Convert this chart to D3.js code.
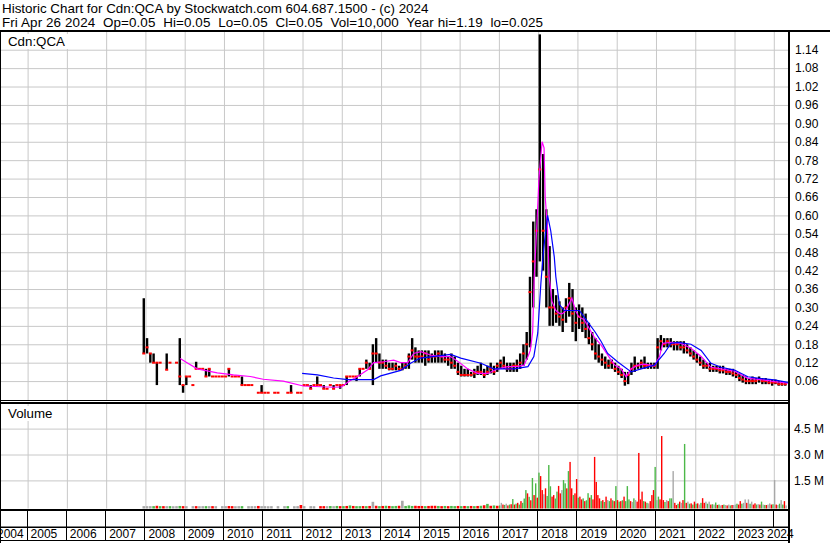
<!DOCTYPE html>
<html>
<head>
<meta charset="utf-8">
<script src="https://cdnjs.cloudflare.com/ajax/libs/d3/7.8.5/d3.min.js"></script>
<style>
  body { margin: 0; background: #fff; }
  svg text { font-family: "Liberation Sans", Arial, sans-serif; fill: #000; }
  .grid .domain { display: none; }
  .grid line { stroke: #c8c8c8; }
  .lbl .domain { display: none; }
</style>
</head>
<body>
<svg id="chart" width="830" height="543"></svg>
<script>
// ---- data ----
// monthly price bars, first month = Dec 2007
const priceStart = 2007 + 11 / 12;
const hi = [.33,
  .20, .15, .15, .12, .12, null, .15, .12, null, .12, .20, .047,
  .075, .075, .047, .123, .10, .10, .10, .10, .075, .075, .075, .075,
  .075, .10, .075, .075, .075, .075, .047, .047, .047, null, .022, .047,
  .022, .022, null, .022, .022, null, null, .022, .047, null, .022, .022,
  .047, .047, .047, .047, .075, .047, .047, .035, .047, .047, .047, .047,
  .047, .075, .075, .075, .075, .10, .10, .13, .12, .18, .20, .15,
  .13, .13, .12, .12, .12, .11, .12, .12, .15, .20, .17, .16,
  .16, .16, .16, .15, .16, .16, .16, .15, .14, .15, .14, .12,
  .11, .10, .10, .09, .10, .11, .12, .10, .11, .12, .11, .12,
  .13, .14, .12, .12, .12, .13, .15, .18, .22, .40, .58, .62,
  1.19, .80, .62, .50, .36, .34, .32, .30, .33, .38, .36, .30,
  .31, .30, .28, .25, .22, .20, .18, .15, .14, .13, .13, .12,
  .11, .10, .09, .09, .12, .14, .12, .13, .14, .12, .12, .12,
  .20, .21, .20, .20, .20, .19, .19, .19, .19, .18, .17, .16,
  .15, .14, .13, .12, .12, .11, .11, .11, .11, .10, .10, .10,
  .09, .085, .08, .075, .07, .075, .07, .075, .07, .07, .065, .065,
  .065, .06, .06, .055];
const lo = [.15,
  .15, .12, .12, .047, .12, null, .097, .12, null, .12, .047, .022,
  .047, .075, .047, .10, .10, .10, .075, .075, .075, .075, .075, .075,
  .075, .075, .075, .075, .075, .047, .047, .047, .047, null, .022, .022,
  .022, .022, null, .022, .022, null, null, .022, .022, null, .022, .022,
  .047, .047, .035, .047, .047, .047, .035, .035, .047, .035, .047, .035,
  .047, .047, .075, .075, .06, .075, .10, .10, .10, .047, .12, .10,
  .10, .10, .095, .095, .095, .095, .095, .10, .10, .13, .12, .12,
  .12, .11, .12, .12, .12, .12, .12, .12, .11, .10, .10, .08,
  .075, .075, .075, .075, .07, .08, .08, .07, .08, .085, .08, .09,
  .10, .10, .09, .09, .09, .09, .10, .11, .13, .17, .30, .40,
  .45, .42, .30, .24, .24, .25, .24, .22, .25, .27, .22, .19,
  .23, .22, .20, .18, .16, .13, .12, .11, .10, .10, .10, .09,
  .08, .07, .045, .05, .08, .09, .10, .10, .10, .10, .10, .10,
  .10, .16, .17, .17, .17, .16, .16, .16, .15, .15, .14, .13,
  .12, .11, .10, .10, .09, .09, .09, .085, .085, .08, .08, .075,
  .07, .06, .055, .05, .05, .05, .05, .055, .05, .05, .05, .045,
  .05, .045, .045, .045];
const cl = [.15,
  .17, .15, .12, .12, .12, null, .097, .12, null, .12, .075, .047,
  .075, .075, .047, .10, .10, .10, .075, .10, .075, .075, .075, .075,
  .075, .10, .075, .075, .075, .047, .047, .047, .047, null, .022, .022,
  .022, .022, null, .022, .022, null, null, .022, .022, null, .022, .022,
  .047, .047, .035, .047, .047, .047, .035, .035, .047, .035, .047, .047,
  .047, .075, .075, .075, .075, .10, .10, .12, .10, .15, .15, .12,
  .12, .11, .10, .10, .11, .10, .10, .11, .14, .16, .14, .14,
  .14, .15, .13, .14, .14, .15, .14, .13, .13, .12, .11, .09,
  .08, .08, .08, .08, .085, .09, .09, .08, .09, .10, .09, .11,
  .12, .11, .10, .10, .11, .11, .12, .15, .18, .35, .45, .55,
  .75, .55, .40, .30, .30, .28, .27, .26, .30, .33, .28, .25,
  .27, .25, .23, .20, .18, .15, .14, .13, .12, .11, .12, .10,
  .09, .08, .06, .08, .10, .11, .11, .12, .11, .11, .11, .11,
  .17, .19, .18, .19, .18, .18, .18, .17, .17, .16, .15, .14,
  .13, .12, .11, .11, .10, .10, .10, .095, .095, .09, .09, .085,
  .08, .07, .065, .06, .06, .06, .06, .065, .06, .06, .055, .055,
  .055, .05, .05, .05];

// short moving average (magenta), [decimal year, price]
const pinkT = [2008.885, 2009.06, 2009.32, 2009.83, 2010.24, 2010.67, 2011.0, 2011.51, 2012.02, 2012.79, 2012.99,
  2013.17, 2013.4, 2013.66, 2013.81, 2014.06, 2014.32, 2014.5, 2014.68, 2014.83, 2015.01, 2015.26, 2015.52,
  2015.77, 2015.95, 2016.2, 2016.46, 2016.72, 2016.97, 2017.23, 2017.48, 2017.64, 2017.74, 2017.8, 2017.86,
  2017.9, 2017.96, 2018.02, 2018.1, 2018.15, 2018.18, 2018.24, 2018.28, 2018.35, 2018.45, 2018.55, 2018.62,
  2018.7, 2018.78, 2018.86, 2018.95, 2019.03, 2019.17, 2019.42, 2019.6, 2019.85, 2019.95, 2020.11, 2020.24,
  2020.37, 2020.54, 2020.7, 2020.96, 2021.09, 2021.17, 2021.38, 2021.64, 2021.89, 2022.15, 2022.4, 2022.66,
  2023.0, 2023.34, 2023.68, 2024.02, 2024.36];
const pinkV = [.134, .12, .10, .087, .08, .075, .066, .06, .044, .04, .041,
  .058, .075, .097, .12, .123, .128, .12, .12, .15, .156, .145, .14,
  .14, .125, .10, .085, .085, .10, .107, .108, .112, .14, .16, .22,
  .40, .55, .72, .84, .82, .66, .55, .40, .32, .29, .28, .28,
  .29, .31, .33, .29, .27, .26, .205, .178, .13, .112, .10, .074,
  .10, .112, .115, .11, .14, .183, .186, .183, .167, .14, .105, .10,
  .092, .069, .065, .058, .053];

// long moving average (blue)
const blueT = [2011.99, 2012.38, 2012.79, 2013.15, 2013.81, 2013.99, 2014.5, 2014.75, 2015.0, 2015.52, 2015.77,
  2016.03, 2016.54, 2016.87, 2017.38, 2017.74, 2017.89, 2017.99, 2018.07, 2018.14, 2018.24, 2018.32, 2018.41,
  2018.45, 2018.54, 2018.66, 2018.88, 2019.05, 2019.22, 2019.45, 2019.6, 2019.77, 2020.02, 2020.37, 2020.62,
  2020.96, 2021.21, 2021.38, 2021.56, 2021.89, 2022.15, 2022.4, 2022.66, 2023.0, 2023.34, 2023.68, 2024.01, 2024.36];
const blueV = [.085, .08, .07, .065, .065, .077, .095, .118, .135, .143, .147,
  .135, .118, .10, .10, .107, .14, .217, .38, .49, .60, .55, .465,
  .40, .31, .29, .29, .29, .26, .22, .19, .15, .123, .09, .10,
  .112, .15, .183, .186, .18, .16, .118, .105, .096, .074, .068, .064, .056];

// volume, millions. monthly from Dec 2007 to Dec 2016
const volEarlyStart = 2007 + 11 / 12;
const volEarly = [0.01,
  0.01, 0.01, 0.01, 0.03, 0.01, 0.01, 0.01, 0.01, 0.005, 0.01, 0.02, 0.01,
  0.01, 0, 0.01, 0.01, 0.005, 0.01, 0.01, 0.01, 0.01, 0.01, 0, 0.01,
  0.01, 0.015, 0.01, 0.005, 0.01, 0.01, 0, 0.01, 0.01, 0.01, 0.02, 0.01,
  0.01, 0.005, 0.01, 0, 0.01, 0, 0.01, 0.01, 0, 0.005, 0.01, 0.075,
  0.01, 0, 0.01, 0.005, 0, 0.01, 0.01, 0.01, 0.015, 0.01, 0.02, 0.01,
  0.01, 0.02, 0.05, 0.02, 0.01, 0.01, 0.015, 0.01, 0.02, 0.26, 0.03, 0.01,
  0.02, 0.03, 0.02, 0.01, 0.02, 0.03, 0.32, 0.02, 0.05, 0.02, 0.03, 0.02,
  0.02, 0.01, 0.02, 0.03, 0.03, 0.02, 0.01, 0.02, 0.01, 0.02, 0.01, 0.02,
  0.01, 0.02, 0.01, 0.02, 0.01, 0.02, 0.03, 0.06, 0.14, 0.03, 0.05, 0.03];
const volEarlyDir = "n" + "nngrgrngnngr" + "nnnrnngnrnnn" + "nrrnngnnnnrn" + "nnnnnnngnnnr" +
  "nnnnnrrngngr" + "grgrggrgrnrg" + "rgrggrngggrr" + "rgrrrgrgrggr" + "grgrgrgrgrgr";

// half-monthly from Jan 2017
const volLateStart = 2017;
const volLate = [
  0.05, 0.2, 0.1, 0.08, 0.15, 0.05, 0.1, 0.12, 0.42, 0.1, 0.15, 0.2, 0.1, 0.3, 0.2, 0.45, 0.94, 0.75, 0.55, 0.35, 1.64, 0.65, 1.33, 0.5,
  1.95, 1.75, 0.94, 0.7, 1.04, 0.6, 2.39, 1.16, 0.56, 0.65, 0.45, 0.85, 1.18, 0.75, 0.94, 1.52, 1.33, 1.04, 2.04, 2.57, 1.04, 0.65, 0.75, 1.58,
  0.5, 0.56, 0.4, 0.46, 0.3, 0.35, 0.76, 0.5, 0.65, 0.4, 2.86, 1.41, 0.65, 0.46, 0.3, 0.36, 0.25, 0.56, 0.36, 0.3, 0.46, 0.35, 0.3, 1.17,
  0.36, 0.27, 0.3, 0.35, 0.56, 0.3, 1.17, 0.4, 0.3, 0.25, 0.46, 0.36, 0.27, 3.09, 0.4, 0.85, 0.3, 0.27, 0.2, 0.17, 0.3, 0.65, 0.94, 2.28,
  0.36, 0.56, 0.4, 4.07, 0.36, 0.25, 0.36, 0.3, 0.46, 0.46, 2.04, 0.2, 0.075, 0.15, 0.27, 0.2, 0.36, 3.61, 0.2, 0.27, 0.15, 0.17, 0.1, 0.27,
  0.15, 0.17, 0.1, 0.2, 0.47, 0.2, 0.27, 0.15, 0.27, 0.1, 0.12, 0.1, 0.22, 0.08, 0.1, 0.05, 0.075, 0.1, 0.075, 0.05, 0.1, 0.05, 0.075, 0.075,
  0.1, 0.15, 0.1, 0.3, 0.15, 0.2, 0.4, 0.2, 0.4, 0.15, 0.27, 0.1, 0.17, 0.1, 0.12, 0.1, 0.27, 0.1, 0.08, 0.075, 0.1, 0.17, 0.1, 0.12,
  1.52, 0.1, 0.075, 0.15, 0.36, 0.1, 0.3, 0.05];
const volLateDir = "gnrgnrgrgrgrgrgggrgrgrgr" + "grrnrgggrrggrrnggrgrrgrr" + "grrgrggrgrrrrrgrgrngrgrg" +
  "rgrgrgggrngnrrrrgrgnrrrg" + "ngrrrgnrggnrrgrnrgrngrgr" + "grngrrngnrgngrgnrgnrngrn" +
  "ngrrgnnrngnrrgnrgngrnnrg" + "nrngngrn";

const priceTicks = d3.range(1, 20).map(i => i * 0.06);
const volTicks = [1.5, 3.0, 4.5];
const years = d3.range(2004, 2025);

const header1 = "Historic Chart for Cdn:QCA by Stockwatch.com 604.687.1500 - (c) 2024";
const header2 = "Fri Apr 26 2024  Op=0.05  Hi=0.05  Lo=0.05  Cl=0.05  Vol=10,000  Year hi=1.19  lo=0.025";

// ---- layout ----
const svg = d3.select('#chart');
const right = 789;
const priceTop = 32, priceBottom = 400;
const volTop = 404, volBottom = 508.5;

const xS = d3.scaleLinear().domain([2005, 2024]).range([27.6, 773.8]);
const yP = d3.scaleLinear().domain([0, 1.2]).range([399.5, 31.3]);
const yV = d3.scaleLinear().domain([0, 1.5]).range([506.3, 480.4]);
const dirColor = { r: '#ff0000', g: '#4cb848', n: '#a8a8a8' };

svg.append('rect').attr('width', 830).attr('height', 543).attr('fill', '#fff');

// gridlines
svg.append('g').attr('class', 'grid')
  .call(d3.axisLeft(yP).tickValues(priceTicks).tickSize(-right).tickFormat(''));
svg.append('g').attr('class', 'grid')
  .attr('transform', `translate(0,${priceBottom})`)
  .call(d3.axisBottom(xS).tickValues(years.slice(1)).tickSize(-(priceBottom - priceTop)).tickFormat(''));
svg.append('g').attr('class', 'grid')
  .call(d3.axisLeft(yV).tickValues(volTicks).tickSize(-right).tickFormat(''));
svg.append('g').attr('class', 'grid')
  .attr('transform', `translate(0,${volBottom})`)
  .call(d3.axisBottom(xS).tickValues(years.slice(1)).tickSize(-(volBottom - volTop)).tickFormat(''));

// price bars
const bars = hi.map((h, i) => ({ t: priceStart + i / 12 + 1 / 24, h: h, l: lo[i], c: cl[i] }))
  .filter(d => d.h !== null);
svg.append('g').selectAll('rect')
  .data(bars.filter(d => d.h > d.l))
  .join('rect')
  .attr('x', d => xS(d.t) - 1.2)
  .attr('width', 2.4)
  .attr('y', d => yP(d.h))
  .attr('height', d => Math.max(1, yP(d.l) - yP(d.h)))
  .attr('fill', '#000');
svg.append('g').selectAll('rect')
  .data(bars)
  .join('rect')
  .attr('x', d => xS(d.t) - 1.5)
  .attr('width', 3)
  .attr('y', d => yP(d.c) - 1)
  .attr('height', 2)
  .attr('fill', '#ff0000');

// moving averages
const line = d3.line().x(d => xS(d[0])).y(d => yP(d[1]));
svg.append('path').datum(pinkT.map((t, i) => [t, pinkV[i]]))
  .attr('d', line).attr('fill', 'none').attr('stroke', '#ff00ff').attr('stroke-width', 1.2);
svg.append('path').datum(blueT.map((t, i) => [t, blueV[i]]))
  .attr('d', line).attr('fill', 'none').attr('stroke', '#0000ff').attr('stroke-width', 1.2);

// volume bars
const vols = volEarly.map((v, i) => ({ t: volEarlyStart + i / 12 + 1 / 24, v: v, d: volEarlyDir[i], w: 2.6 }))
  .concat(volLate.map((v, i) => ({ t: volLateStart + i / 24 + 1 / 48, v: v, d: volLateDir[i], w: 1.4 })))
  .filter(d => d.v > 0);
svg.append('g').selectAll('rect')
  .data(vols)
  .join('rect')
  .attr('x', d => xS(d.t) - d.w / 2)
  .attr('width', d => d.w)
  .attr('y', d => yV(d.v))
  .attr('height', d => volBottom - yV(d.v))
  .attr('fill', d => dirColor[d.d]);

// frame lines
const frame = svg.append('g').attr('fill', '#000');
frame.append('rect').attr('x', 0).attr('y', 30).attr('width', 830).attr('height', 2);
frame.append('rect').attr('x', right - 1).attr('y', 31).attr('width', 2).attr('height', 512);
frame.append('rect').attr('x', 0).attr('y', 31).attr('width', 1).attr('height', 512);
frame.append('rect').attr('x', 0).attr('y', 400).attr('width', right).attr('height', 1);
frame.append('rect').attr('x', 0).attr('y', 402).attr('width', right).attr('height', 2);
frame.append('rect').attr('x', 0).attr('y', 509).attr('width', right).attr('height', 2);
frame.append('rect').attr('x', 0).attr('y', 526.5).attr('width', right).attr('height', 1.5);
frame.append('rect').attr('x', 0).attr('y', 540).attr('width', right).attr('height', 1);

// year strip
svg.append('g').selectAll('line')
  .data(years.slice(1))
  .join('line')
  .attr('x1', d => Math.round(xS(d)) - 0.5).attr('x2', d => Math.round(xS(d)) - 0.5)
  .attr('y1', 511).attr('y2', d => d === 2024 ? 527 : 540)
  .attr('stroke', '#000');
svg.append('g').selectAll('text')
  .data(years)
  .join('text')
  .attr('x', d => Math.max(-3, Math.min(xS(d) + 3, 767)))
  .attr('y', 538)
  .style('font-size', '12px')
  .text(d => d);

// axis labels
svg.append('g').attr('class', 'lbl')
  .attr('transform', `translate(${right},0)`)
  .call(d3.axisRight(yP).tickValues(priceTicks).tickSize(0).tickPadding(6).tickFormat(d3.format('.2f')))
  .selectAll('text').style('font-size', '12px').attr('fill', '#000');
svg.append('g').attr('class', 'lbl')
  .attr('transform', `translate(${right},0)`)
  .call(d3.axisRight(yV).tickValues(volTicks).tickSize(0).tickPadding(5).tickFormat(d => d.toFixed(1) + ' M'))
  .selectAll('text').style('font-size', '12px').attr('fill', '#000');

// panel titles
svg.append('rect').attr('x', 5).attr('y', 34).attr('width', 63).attr('height', 15).attr('fill', '#fff');
svg.append('text').attr('x', 8).attr('y', 46).style('font-size', '13.3px').text('Cdn:QCA');
svg.append('rect').attr('x', 5).attr('y', 406).attr('width', 51).attr('height', 15).attr('fill', '#fff');
svg.append('text').attr('x', 8).attr('y', 418).style('font-size', '13.3px').text('Volume');

// header
svg.append('text').attr('x', 2).attr('y', 13).style('font-size', '13.4px').style('white-space', 'pre').text(header1);
svg.append('text').attr('x', 2).attr('y', 27).style('font-size', '13.4px').style('white-space', 'pre')
  .attr('textLength', 541).attr('lengthAdjust', 'spacing').text(header2);
</script>
</body>
</html>
